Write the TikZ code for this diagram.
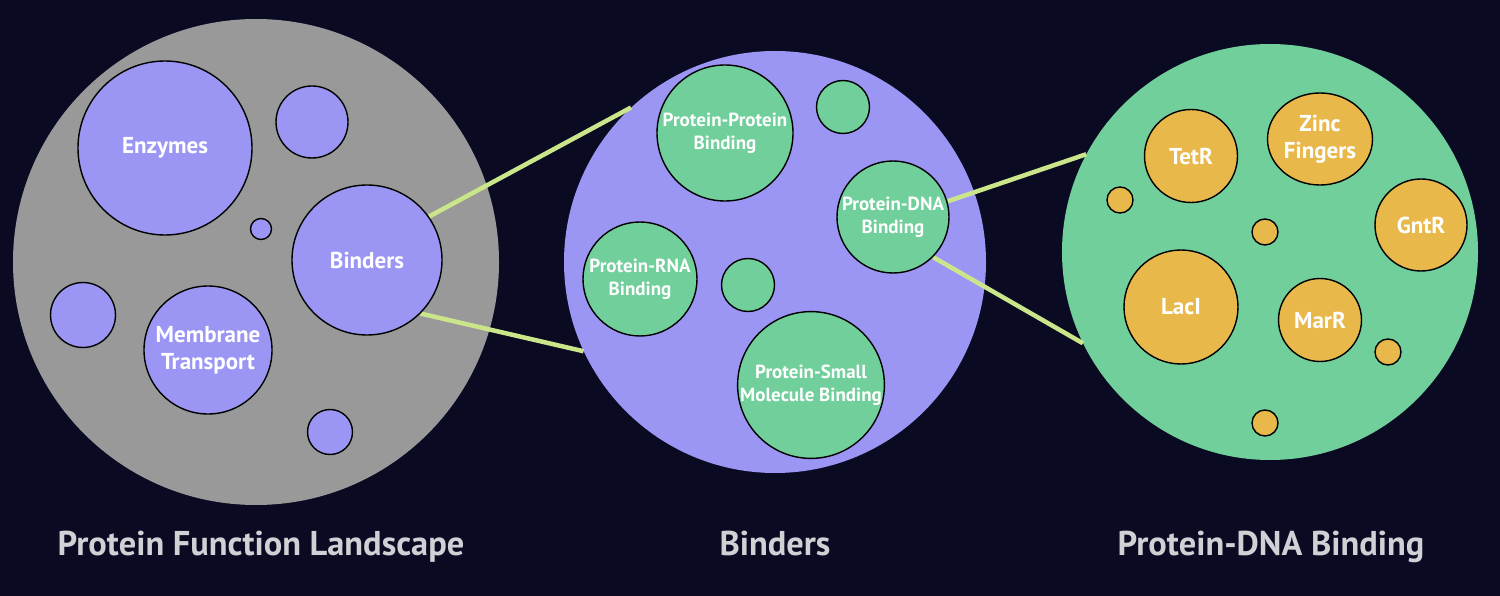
\documentclass[tikz,border=0pt]{standalone}
\usepackage{fontspec}
\setmainfont{PT Sans}
\usetikzlibrary{shapes.geometric}
\pgfdeclarelayer{background}
\pgfdeclarelayer{front}
\pgfsetlayers{background,main,front}
\definecolor{bgc}{HTML}{0A0A23}
\definecolor{grayc}{HTML}{999999}
\definecolor{purp}{HTML}{9B96F4}
\definecolor{grn}{HTML}{70CF9A}
\definecolor{org}{HTML}{E9B84B}
\definecolor{linkc}{HTML}{CBE68A}
\definecolor{titlec}{HTML}{D0D0D5}
\tikzset{
  bigcirc/.style={circle, inner sep=0pt, minimum size=#1},
  subcirc/.style={circle, draw=black, line width=1.4pt, inner sep=0pt, minimum size=#1, text=white, align=center},
  lbig/.style={font=\bfseries\fontsize{23}{27}\selectfont},
  lsmall/.style={font=\bfseries\fontsize{19}{23}\selectfont},
  link/.style={draw=linkc, line width=4.5pt},
  title/.style={text=titlec, font=\bfseries\fontsize{34.4}{40}\selectfont, anchor=base},
}
\begin{document}
\begin{tikzpicture}[x=1pt,y=-1pt]
\useasboundingbox (0,0) rectangle (1500,596);
\begin{pgfonlayer}{background}
\fill[bgc] (0,0) rectangle (1500,596);
\node[bigcirc=486, fill=grayc] (land) at (256,262) {};
\node[bigcirc=422, fill=purp] (bind) at (775,262) {};
\node[bigcirc=416, fill=grn] (dna) at (1270,252) {};
\end{pgfonlayer}
\begin{pgfonlayer}{front}
% landscape
\node[subcirc=174, fill=purp, lbig] (enz) at (165,148) {Enzymes};
\node[subcirc=72, fill=purp] (g1) at (312,122) {};
\node[subcirc=21, fill=purp] (g2) at (261,229) {};
\node[subcirc=150, fill=purp, lbig] (binders) at (367,260) {Binders};
\node[subcirc=65, fill=purp] (g3) at (83,315) {};
\node[subcirc=128, fill=purp, lbig] (mem) at (208,350) {Membrane\\Transport};
\node[subcirc=45, fill=purp] (g4) at (330,432) {};
% binders
\node[subcirc=136, fill=grn, lsmall] (ppb) at (725,133) {Protein-Protein\\Binding};
\node[subcirc=53, fill=grn] (b1) at (843,107) {};
\node[subcirc=112, fill=grn, lsmall] (pdb) at (893,217) {Protein-DNA\\Binding};
\node[subcirc=114, fill=grn, lsmall] (prb) at (640,279) {Protein-RNA\\Binding};
\node[subcirc=53, fill=grn] (b2) at (748,285) {};
\node[subcirc=146, fill=grn, lsmall] (psm) at (811,385) {Protein-Small\\Molecule Binding};
% dna
\node[subcirc=93, fill=org, lbig] (tetr) at (1191,156) {TetR};
\node[ellipse, draw=black, line width=1.4pt, fill=org, text=white, align=center, lbig, inner sep=0pt, minimum width=105, minimum height=92] (zinc) at (1320,139) {Zinc\\Fingers};
\node[subcirc=26, fill=org] (d1) at (1120,200) {};
\node[subcirc=26, fill=org] (d2) at (1265,232) {};
\node[subcirc=92, fill=org, lbig] (gntr) at (1421,225) {GntR};
\node[subcirc=114, fill=org, lbig] (laci) at (1181,307) {LacI};
\node[subcirc=83, fill=org, lbig] (marr) at (1320,320) {MarR};
\node[subcirc=26, fill=org] (d3) at (1388,352) {};
\node[subcirc=26, fill=org] (d4) at (1265,423) {};
\end{pgfonlayer}
% links
\draw[link] (binders.35) -- (bind.133.5);
\draw[link] (binders.-45) -- (bind.205);
\draw[link] (pdb.16) -- (dna.152.6);
\draw[link] (pdb.-45) -- (dna.206.9);
% titles
\node[title] (t1) at (261,555) {Protein Function Landscape};
\node[title] (t2) at (775,555) {Binders};
\node[title] (t3) at (1271,555) {Protein-DNA Binding};
\end{tikzpicture}
\end{document}
